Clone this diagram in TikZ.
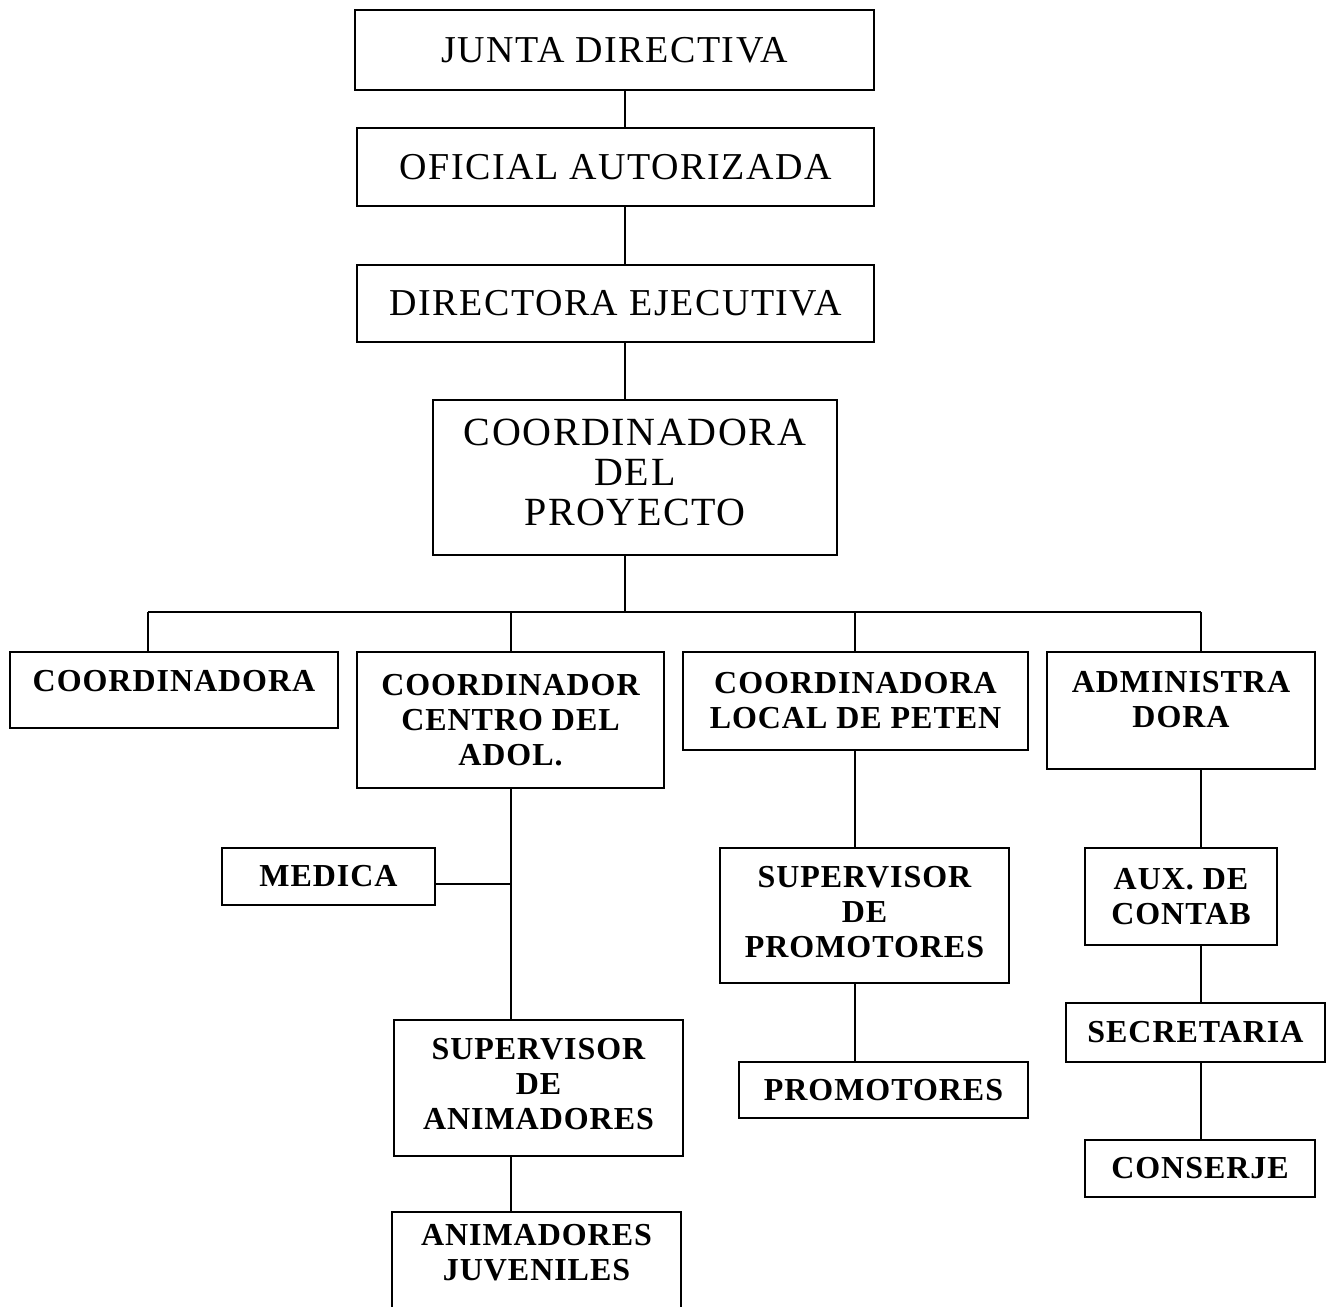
\documentclass[tikz,border=0pt]{standalone}
\usepackage{fontspec}
\setmainfont{Liberation Serif}
\newfontfamily\wideserif[LetterSpace=4]{Liberation Serif}
\newfontfamily\boldserif[LetterSpace=3]{Liberation Serif Bold}
\usetikzlibrary{positioning}

\tikzset{
  toprole/.style={draw, line width=1.8pt, inner sep=0pt, align=center, font=\wideserif\fontsize{38}{40}\selectfont},
  role/.style={draw, line width=1.8pt, inner sep=0pt, align=center, font=\boldserif\fontsize{32}{35}\selectfont},
  link/.style={line width=1.8pt}
}

\begin{document}
\begin{tikzpicture}[x=1pt,y=1pt,yscale=-1,xscale=1]
\useasboundingbox (0,0) rectangle (1327,1306);

% Text Node
\node [toprole, minimum width=519, minimum height=80] (junta) at (614.5,50) {JUNTA DIRECTIVA};
% Text Node
\node [toprole, minimum width=517, minimum height=78] (oficial) at (615.5,167) {OFICIAL AUTORIZADA};
% Text Node
\node [toprole, minimum width=517, minimum height=77] (directora) at (615.5,303.5) {DIRECTORA EJECUTIVA};
% Text Node
\node [toprole, font=\wideserif\fontsize{40}{40}\selectfont, minimum width=404, minimum height=155, text depth=10pt] (coordproy) at (635,477.5) {COORDINADORA\\DEL\\PROYECTO};

% Text Node
\node [role, minimum width=328, minimum height=76, text depth=18pt] (coord) at (174,690) {COORDINADORA};
% Text Node
\node [role, minimum width=307, minimum height=136] (centro) at (510.5,720) {COORDINADOR\\CENTRO DEL\\ADOL.};
% Text Node
\node [role, minimum width=345, minimum height=98] (peten) at (855.5,701) {COORDINADORA\\LOCAL DE PETEN};
% Text Node
\node [role, minimum width=268, minimum height=117, text depth=22pt] (admin) at (1181,710.5) {ADMINISTRA\\DORA};

% Text Node
\node [role, minimum width=213, minimum height=57] (medica) at (328.5,876.5) {MEDICA};
% Text Node
\node [role, minimum width=289, minimum height=136, text depth=8pt] (supanim) at (538.5,1088) {SUPERVISOR\\DE\\ANIMADORES};
% Text Node
\node [role, minimum width=289, minimum height=110, text depth=30pt] (animjuv) at (536.5,1267) {ANIMADORES\\JUVENILES};
% Text Node
\node [role, minimum width=289, minimum height=135, text depth=8pt] (suppro) at (864.5,915.5) {SUPERVISOR\\DE\\PROMOTORES};
% Text Node
\node [role, minimum width=289, minimum height=56] (promotores) at (883.5,1090) {PROMOTORES};
% Text Node
\node [role, minimum width=192, minimum height=97] (aux) at (1181,896.5) {AUX. DE\\CONTAB};
% Text Node
\node [role, minimum width=259, minimum height=59] (secretaria) at (1195.5,1032.5) {SECRETARIA};
% Text Node
\node [role, minimum width=230, minimum height=57] (conserje) at (1200,1168.5) {CONSERJE};

%Straight Lines
\coordinate (trunk) at (625,612);
\coordinate (dropA) at (148,612);
\coordinate (dropB) at (511,612);
\coordinate (dropC) at (855,612);
\coordinate (dropD) at (1201,612);

\draw [link] (junta.south -| trunk) -- (oficial.north -| trunk);
\draw [link] (oficial.south -| trunk) -- (directora.north -| trunk);
\draw [link] (directora.south -| trunk) -- (coordproy.north -| trunk);
\draw [link] (coordproy.south -| trunk) -- (trunk);
\draw [link] (dropA) -- (dropD);

\draw [link] (dropA) -- (dropA |- coord.north);
\draw [link] (dropB) -- (dropB |- centro.north);
\draw [link] (dropC) -- (dropC |- peten.north);
\draw [link] (dropD) -- (dropD |- admin.north);

\draw [link] (centro.south -| dropB) -- (supanim.north -| dropB);
\draw [link] ([yshift=7.5pt]medica.east) -- ([yshift=7.5pt]medica.east -| dropB);
\draw [link] (supanim.south -| dropB) -- (animjuv.north -| dropB);

\draw [link] (peten.south -| dropC) -- (suppro.north -| dropC);
\draw [link] (suppro.south -| dropC) -- (promotores.north -| dropC);

\draw [link] (admin.south -| dropD) -- (aux.north -| dropD);
\draw [link] (aux.south -| dropD) -- (secretaria.north -| dropD);
\draw [link] (secretaria.south -| dropD) -- (conserje.north -| dropD);
\end{tikzpicture}
\end{document}
